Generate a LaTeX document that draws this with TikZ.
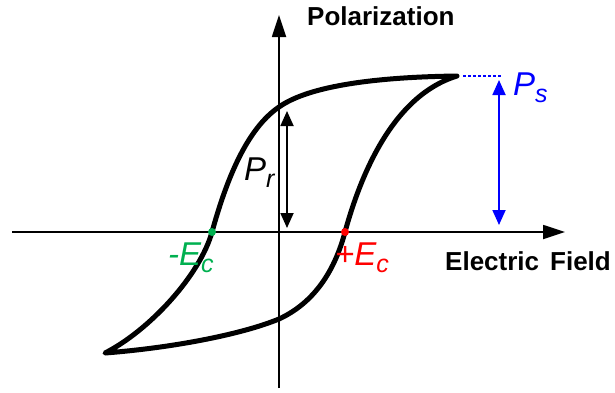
\documentclass[tikz,border=0pt]{standalone}
\usepackage{fontspec}
\setmainfont{Liberation Sans}
\usetikzlibrary{arrows.meta}
\definecolor{ecgreen}{RGB}{0,176,80}
\definecolor{ecred}{RGB}{255,0,0}
\definecolor{psblue}{RGB}{0,0,255}
\newcommand{\lbl}[2]{{\fontsize{33}{33}\selectfont\itshape #1\raisebox{-7pt}{\fontsize{25}{25}\selectfont #2}}}
\begin{document}
\begin{tikzpicture}[x=1pt,y=-1pt,
  axis/.style={line width=1.8pt,-{Triangle[length=22pt,width=14pt]}},
  dbl/.style={line width=1.8pt,{Triangle[length=15pt,width=13pt]}-{Triangle[length=15pt,width=13pt]}},
  loopline/.style={line width=5pt,line join=round},
  title/.style={inner sep=0pt,anchor=base west,font=\fontsize{26}{26}\selectfont\bfseries},
  lab/.style={inner sep=0pt,anchor=base west}]
\useasboundingbox (0,0) rectangle (615,392);
% coordinates
\coordinate (xs) at (12,232);
\coordinate (xe) at (565,232);
\coordinate (ys) at (279,388);
\coordinate (ye) at (279,15);
\coordinate (S) at (457,76);
\coordinate (A) at (279,107);
\coordinate (mEc) at (212,232);
\coordinate (B) at (105,353);
\coordinate (C) at (279,319);
\coordinate (pEc) at (345,232);
\coordinate (pr1) at (287,111);
\coordinate (pr2) at (287,228);
\coordinate (ps1) at (499,80);
\coordinate (ps2) at (499,225);
\coordinate (d1) at (463,76);
\coordinate (d2) at (502,76);
% axes
\draw[axis] (xs) -- (xe);
\draw[axis] (ys) -- (ye);
% loop
\draw[loopline] (S) .. controls (380,77) and (310,85) .. (A)
  .. controls (245,130) and (225,185) .. (mEc)
  .. controls (200,275) and (150,330) .. (B)
  .. controls (170,348) and (240,335) .. (C)
  .. controls (320,300) and (337,262) .. (pEc)
  .. controls (362,170) and (395,95) .. cycle;
% Pr arrow
\draw[dbl] (pr1) -- (pr2);
% Ps
\draw[dbl,psblue] (ps1) -- (ps2);
\draw[psblue,line width=1.8pt,dash pattern=on 3pt off 2pt] (d1) -- (d2);
% dots
\fill[ecgreen] (mEc) circle (4);
\fill[ecred] (pEc) circle (4);
% labels
\node[title] (pol) at (307,25) {Polarization};
\node[title] (ef) at (445,270) {Electric\hspace{11pt}Field};
\node[lab] (prl) at (244,180) {\lbl{P}{r}};
\node[lab,text=psblue] (psl) at (513,95) {\lbl{P}{s}};
\node[lab,text=ecgreen] (mecl) at (168,265) {\lbl{-E}{c}};
\node[lab,text=ecred] (pecl) at (335,265) {\lbl{+E}{c}};
\end{tikzpicture}
\end{document}
